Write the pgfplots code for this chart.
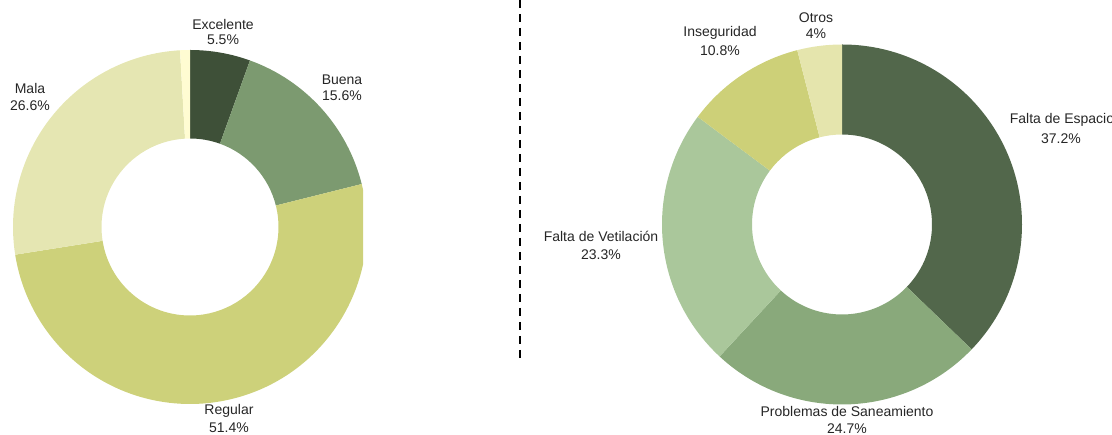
\documentclass[border=0pt]{standalone}
\usepackage{pgfplots}
\usepackage{pgfplotstable}
\pgfplotsset{compat=1.18}
\usepackage{fontspec}
\setmainfont{Liberation Sans}
\definecolor{cA}{HTML}{3E5038}
\definecolor{cB}{HTML}{7C9A70}
\definecolor{cC}{HTML}{CDD17A}
\definecolor{cD}{HTML}{E5E6B2}
\definecolor{cE}{HTML}{FFFCD2}
\definecolor{dA}{HTML}{52674B}
\definecolor{dB}{HTML}{89A97B}
\definecolor{dC}{HTML}{AAC79B}
\definecolor{dD}{HTML}{CDD078}
\definecolor{dE}{HTML}{E5E5AD}
\definecolor{txt}{HTML}{262626}

\pgfplotstableread{
val col
5.5 cA
15.6 cB
51.4 cC
26.6 cD
0.9 cE
}\leftdata
\pgfplotstableread{
val col
37.2 dA
24.7 dB
23.3 dC
10.8 dD
4.0 dE
}\rightdata

% #1 table, #2 cx, #3 cy, #4 R, #5 r, #6 last row index
\newcommand\donut[6]{%
  \def\curang{90}%
  \pgfplotsforeachungrouped \i in {0,...,#6}{%
    \pgfplotstablegetelem{\i}{val}\of#1%
    \pgfmathsetmacro\nextang{\curang-3.6*\pgfplotsretval}%
    \pgfmathsetmacro\xa{#2+#4*cos(\curang)}%
    \pgfmathsetmacro\ya{#3+#4*sin(\curang)}%
    \pgfmathsetmacro\xb{#2+#5*cos(\nextang)}%
    \pgfmathsetmacro\yb{#3+#5*sin(\nextang)}%
    \pgfplotstablegetelem{\i}{col}\of#1%
    \edef\temp{\noexpand\fill[\pgfplotsretval] (axis cs:\xa,\ya) arc[start angle=\curang, end angle=\nextang, radius=#4pt] -- (axis cs:\xb,\yb) arc[start angle=\nextang, end angle=\curang, radius=#5pt] -- cycle;}%
    \temp
    \let\curang\nextang
  }%
}

\begin{document}
\begin{tikzpicture}
\begin{axis}[x=1pt, y=1pt, xmin=0, xmax=1112, ymin=0, ymax=435,
  hide axis, clip=false]
\coordinate (SW) at (axis cs:0,0);
\coordinate (NE) at (axis cs:1112,435);
\begin{scope}
\clip (axis cs:0,0) rectangle (axis cs:363,435);
\donut{\leftdata}{190}{208}{177}{88.5}{4}
\end{scope}
\donut{\rightdata}{842}{210.5}{180}{90}{4}
\draw[black, line width=2pt, dash pattern=on 8pt off 6pt] (axis cs:520,435) -- (axis cs:520,74);
\tikzset{lab/.style={anchor=base, text=txt, font=\fontsize{14}{16}\selectfont, inner sep=0pt}}
% left labels
\node[lab] at (axis cs:223,405) {Excelente};
\node[lab] at (axis cs:223,390) {5.5\%};
\node[lab] at (axis cs:342,350) {Buena};
\node[lab] at (axis cs:342,334) {15.6\%};
\node[lab] at (axis cs:30,341) {Mala};
\node[lab] at (axis cs:30,324) {26.6\%};
\node[lab] at (axis cs:229,20) {Regular};
\node[lab] at (axis cs:229,2) {51.4\%};
% right labels
\node[lab] at (axis cs:816,412) {Otros};
\node[lab] at (axis cs:816,396) {4\%};
\node[lab] at (axis cs:720,398) {Inseguridad};
\node[lab] at (axis cs:720,379) {10.8\%};
\node[lab] at (axis cs:1062,311) {Falta de Espacio};
\node[lab] at (axis cs:1061,291) {37.2\%};
\node[lab] at (axis cs:601,193) {Falta de Vetilación};
\node[lab] at (axis cs:601,175) {23.3\%};
\node[lab] at (axis cs:847,18) {Problemas de Saneamiento};
\node[lab] at (axis cs:847,1) {24.7\%};
\end{axis}
\pgfresetboundingbox
\useasboundingbox (SW) rectangle (NE);
\end{tikzpicture}
\end{document}
